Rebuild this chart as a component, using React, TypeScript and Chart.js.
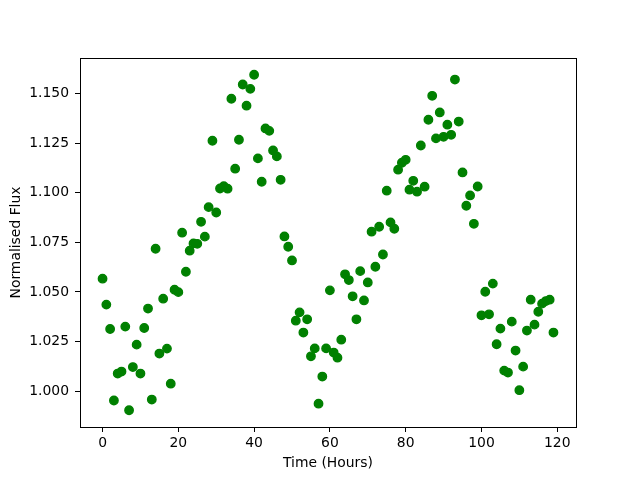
import React, { useEffect, useRef } from "react";
import { Chart, registerables } from "chart.js";

Chart.register(...registerables);

const hours: number[] = Array.from({ length: 120 }, (_, i) => i);

const flux: number[] = [
  1.0567, 1.0436, 1.0313, 0.9952, 1.0088, 1.0098, 1.0325, 0.9903, 1.0121, 1.0234,
  1.0088, 1.0318, 1.0416, 0.9957, 1.0718, 1.0189, 1.0466, 1.0214, 1.0037, 1.0511,
  1.0499, 1.0799, 1.0602, 1.0708, 1.0745, 1.0743, 1.0854, 1.0779, 1.0928, 1.1263,
  1.0901, 1.1022, 1.1034, 1.1021, 1.1475, 1.1122, 1.1268, 1.1547, 1.1440, 1.1525,
  1.1596, 1.1174, 1.1056, 1.1325, 1.1313, 1.1214, 1.1184, 1.1066, 1.0780, 1.0728,
  1.0659, 1.0355, 1.0397, 1.0295, 1.0362, 1.0175, 1.0215, 0.9936, 1.0073, 1.0215,
  1.0508, 1.0194, 1.0168, 1.0259, 1.0589, 1.0560, 1.0478, 1.0362, 1.0605, 1.0457,
  1.0548, 1.0804, 1.0627, 1.0829, 1.0689, 1.1011, 1.0851, 1.0819, 1.1117, 1.1152,
  1.1167, 1.1016, 1.1061, 1.1006, 1.1239, 1.1031, 1.1369, 1.1490, 1.1275, 1.1406,
  1.1283, 1.1344, 1.1293, 1.1572, 1.1360, 1.1103, 1.0935, 1.0987, 1.0844, 1.1032,
  1.0382, 1.0501, 1.0387, 1.0542, 1.0236, 1.0315, 1.0103, 1.0093, 1.0350, 1.0204,
  1.0004, 1.0123, 1.0305, 1.0461, 1.0335, 1.0400, 1.0441, 1.0454, 1.0461, 1.0295,
];

const xTicks: number[] = [0, 20, 40, 60, 80, 100, 120];
const yTicks: number[] = [1.0, 1.025, 1.05, 1.075, 1.1, 1.125, 1.15];

const xTitle = "Time (Hours)";
const yTitle = "Normalised Flux";

function padRange(vals: number[]) {
  const lo = Math.min(...vals);
  const hi = Math.max(...vals);
  const m = (hi - lo) * 0.05;
  return [lo - m, hi + m];
}

const frame = {
  id: "frame",
  afterDraw(chart: any) {
    const { ctx, chartArea } = chart;
    ctx.save();
    ctx.strokeStyle = "#000";
    ctx.lineWidth = 1;
    ctx.strokeRect(
      Math.round(chartArea.left) + 0.5,
      Math.round(chartArea.top) + 0.5,
      Math.round(chartArea.right - chartArea.left),
      Math.round(chartArea.bottom - chartArea.top)
    );
    ctx.restore();
  },
};

export default function App() {
  const ref = useRef<HTMLCanvasElement>(null);

  useEffect(() => {
    if (!ref.current) return;
    const [xmin, xmax] = padRange(hours);
    const [ymin, ymax] = padRange(flux);
    const font = { family: "DejaVu Sans", size: 13.9 };
    const chart = new Chart(ref.current, {
      type: "scatter",
      data: {
        datasets: [
          {
            data: hours.map((h, i) => ({ x: h, y: flux[i] })),
            backgroundColor: "#008000",
            borderColor: "#008000",
            borderWidth: 1.4,
            pointRadius: 4.2,
            pointHoverRadius: 4.2,
          },
        ],
      },
      options: {
        responsive: false,
        animation: false,
        events: [],
        layout: { padding: { left: 0, top: 58, right: 64, bottom: 0 } },
        plugins: { legend: { display: false }, tooltip: { enabled: false } },
        scales: {
          x: {
            type: "linear",
            min: xmin,
            max: xmax,
            afterBuildTicks: (s: any) => {
              s.ticks = xTicks.map((v) => ({ value: v }));
            },
            afterFit: (s: any) => {
              s.height = 53;
            },
            grid: {
              display: true,
              drawOnChartArea: false,
              drawTicks: true,
              tickLength: 5,
              color: "#000",
              lineWidth: 1,
            },
            border: { display: false },
            ticks: {
              color: "#000",
              font,
              padding: 3,
              maxRotation: 0,
              autoSkip: false,
              callback: (v: any) => String(v),
            },
            title: {
              display: true,
              text: xTitle,
              color: "#000",
              font,
              padding: { top: 0, bottom: 8 },
            },
          },
          y: {
            type: "linear",
            min: ymin,
            max: ymax,
            afterBuildTicks: (s: any) => {
              s.ticks = yTicks.map((v) => ({ value: v }));
            },
            afterFit: (s: any) => {
              s.width = 80;
            },
            grid: {
              display: true,
              drawOnChartArea: false,
              drawTicks: true,
              tickLength: 5,
              color: "#000",
              lineWidth: 1,
            },
            border: { display: false },
            ticks: {
              color: "#000",
              font,
              padding: 6,
              autoSkip: false,
              callback: (v: any) => Number(v).toFixed(3),
            },
            title: {
              display: true,
              text: yTitle,
              color: "#000",
              font,
              padding: { top: 8, bottom: 0 },
            },
          },
        },
      },
      plugins: [frame],
    });
    return () => chart.destroy();
  }, []);

  return (
    <div style={{ position: "fixed", left: 0, top: 0, width: 640, height: 480, background: "#fff" }}>
      <canvas ref={ref} width={640} height={480} />
    </div>
  );
}
